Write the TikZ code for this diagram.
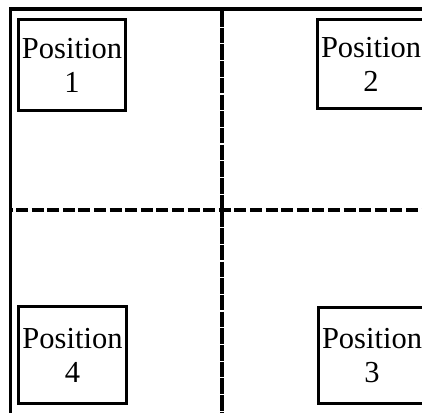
\documentclass[tikz,border=0pt]{standalone}
\usepackage{fontspec}
\setmainfont{Liberation Serif}
\begin{document}
\begin{tikzpicture}[x=1pt,y=1pt,
  posbox/.style={draw=black,line width=3pt,inner sep=0pt,align=center,
    font=\fontsize{30.5}{34}\selectfont},
  solidline/.style={line width=3.5pt,black},
  vdash/.style={line width=3.3pt,black,dash pattern=on 15.5pt off 1.2pt},
  hdash/.style={line width=3.8pt,black,dash pattern=on 12pt off 3.6pt,dash phase=-4pt}]
\useasboundingbox (0,0) rectangle (422,-413);
\fill[white] (0,0) rectangle (422,-413);
% dividers
\draw[hdash] (12,-209.7) -- (422,-209.7);
\draw[vdash] (222,-11) -- (222,-413);
\draw[solidline] (10.5,-7) -- (10.5,-413);
\draw[solidline,line width=4pt] (9,-9) -- (422,-9);
% boxes
\node[posbox,minimum width=107pt,minimum height=91pt] (p1) at (72,-65) {Position\\1};
\node[posbox,minimum width=107pt,minimum height=89pt] (p2) at (371,-64) {Position\\2};
\node[posbox,minimum width=107pt,minimum height=96pt] (p3) at (372,-355.5) {Position\\3};
\node[posbox,minimum width=108pt,minimum height=97pt] (p4) at (72.5,-355) {Position\\4};
\end{tikzpicture}
\end{document}
